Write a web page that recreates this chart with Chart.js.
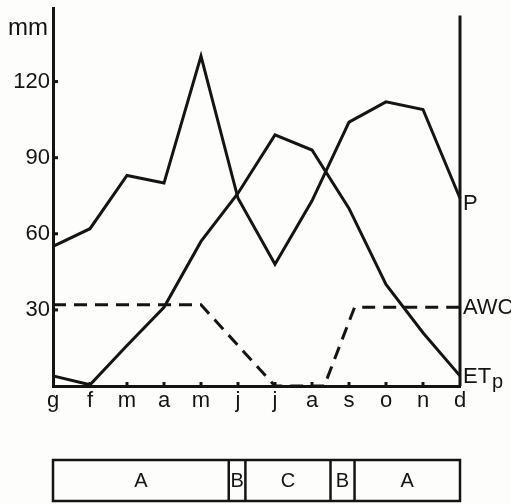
<!DOCTYPE html>
<html>
<head>
<meta charset="utf-8">
<script src="https://cdn.jsdelivr.net/npm/chart.js@4/dist/chart.umd.min.js"></script>
<style>
  html, body { margin: 0; padding: 0; background: #fdfdfb; }
  canvas { display: block; }
</style>
</head>
<body>
<canvas id="chart" width="511" height="504"></canvas>
<script>
// months (italian initials), one point per month
const months = ['g', 'f', 'm', 'a', 'm', 'j', 'j', 'a', 's', 'o', 'n', 'd'];
const precip = [55, 62, 83, 80, 130, 74, 48, 73, 104, 112, 109, 74];
const etp = [4, 0.5, 16, 31, 57, 76, 99, 93, 70, 40, 21, 4];
// AWC is drawn between month positions, so it keeps its own x list
const awcX = [0, 4, 6, 7.33, 8.15, 11];
const awcY = [32, 32, 0, 0, 31, 31];
const yTicks = [30, 60, 90, 120];
// soil moisture zones under the chart
const zoneLabels = ['A', 'B', 'C', 'B', 'A'];
const zoneEdges = [0, 4.75, 5.2, 7.5, 8.15, 11];

const ink = '#141414';
const font = '"Liberation Sans", Arial, sans-serif';

function pts(xs, ys) {
    return ys.map((v, i) => ({ x: xs ? xs[i] : i, y: v }));
}

const extras = {
    id: 'extras',
    afterDraw(chart) {
        const ctx = chart.ctx;
        const x = chart.scales.x;
        const y = chart.scales.y;
        const area = chart.chartArea;
        ctx.save();
        ctx.strokeStyle = ink;
        ctx.fillStyle = ink;
        ctx.lineWidth = 3;
        ctx.lineCap = 'butt';

        // right hand vertical line
        ctx.beginPath();
        ctx.moveTo(area.right, y.getPixelForValue(146));
        ctx.lineTo(area.right, area.bottom);
        ctx.stroke();

        // little tick marks inside the axes
        yTicks.forEach(v => {
            const py = y.getPixelForValue(v);
            ctx.beginPath();
            ctx.moveTo(area.left, py);
            ctx.lineTo(area.left + 5, py);
            ctx.stroke();
        });
        for (let i = 1; i < months.length - 1; i++) {
            const px = x.getPixelForValue(i);
            ctx.beginPath();
            ctx.moveTo(px, area.bottom);
            ctx.lineTo(px, area.bottom - 4);
            ctx.stroke();
        }

        // unit
        ctx.textBaseline = 'middle';
        ctx.textAlign = 'right';
        ctx.font = '24px ' + font;
        ctx.fillText('mm', area.left - 5, y.getPixelForValue(141));

        // end labels
        ctx.font = '22px ' + font;
        ctx.textAlign = 'left';
        const lx = area.right + 3;
        ctx.fillText('P', lx, y.getPixelForValue(precip[precip.length - 1]) + 6);
        ctx.fillText('AWC', lx, y.getPixelForValue(awcY[awcY.length - 1]) + 1);
        const ey = y.getPixelForValue(etp[etp.length - 1]) + 1;
        ctx.fillText('ET', lx, ey);
        const w = ctx.measureText('ET').width;
        ctx.font = '20px ' + font;
        ctx.fillText('p', lx + w + 1, ey + 6);

        // zone box
        const top = 460, bottom = 501;
        ctx.lineWidth = 2.5;
        ctx.strokeRect(x.getPixelForValue(zoneEdges[0]), top,
            x.getPixelForValue(zoneEdges[zoneEdges.length - 1]) - x.getPixelForValue(zoneEdges[0]), bottom - top);
        ctx.font = '20px ' + font;
        ctx.textAlign = 'center';
        zoneLabels.forEach((lab, i) => {
            const a = x.getPixelForValue(zoneEdges[i]);
            const b = x.getPixelForValue(zoneEdges[i + 1]);
            if (i > 0) {
                ctx.beginPath();
                ctx.moveTo(a, top);
                ctx.lineTo(a, bottom);
                ctx.stroke();
            }
            ctx.fillText(lab, (a + b) / 2, (top + bottom) / 2 + 1);
        });
        ctx.restore();
    }
};

const line = {
    borderColor: ink,
    borderWidth: 3,
    pointRadius: 0,
    tension: 0,
    fill: false,
    clip: false
};

new Chart(document.getElementById('chart'), {
    type: 'line',
    data: {
        datasets: [
            Object.assign({ label: 'P', data: pts(null, precip) }, line),
            Object.assign({ label: 'ETp', data: pts(null, etp) }, line),
            Object.assign({ label: 'AWC', data: pts(awcX, awcY), borderDash: [13, 8] }, line)
        ]
    },
    options: {
        responsive: false,
        animation: false,
        devicePixelRatio: 1,
        layout: { padding: { top: 8, right: 51, left: 0, bottom: 0 } },
        plugins: { legend: { display: false }, tooltip: { enabled: false } },
        scales: {
            x: {
                type: 'linear',
                min: 0,
                max: 11,
                afterBuildTicks: s => { s.ticks = months.map((m, i) => ({ value: i })); },
                afterFit: s => { s.height = 118; s.paddingLeft = 0; s.paddingRight = 0; },
                grid: { drawOnChartArea: false, drawTicks: false },
                border: { display: true, color: ink, width: 3 },
                ticks: {
                    color: ink,
                    padding: 2,
                    maxRotation: 0,
                    autoSkip: false,
                    font: { family: font, size: 22 },
                    callback: v => months[v]
                }
            },
            y: {
                min: 0,
                max: 149,
                afterBuildTicks: s => { s.ticks = yTicks.map(v => ({ value: v })); },
                afterFit: s => { s.width = 53; s.paddingTop = 0; s.paddingBottom = 0; },
                grid: { drawOnChartArea: false, drawTicks: false },
                border: { display: true, color: ink, width: 3 },
                ticks: {
                    color: ink,
                    padding: 3,
                    font: { family: font, size: 22 }
                }
            }
        }
    },
    plugins: [extras]
});
</script>
</body>
</html>
